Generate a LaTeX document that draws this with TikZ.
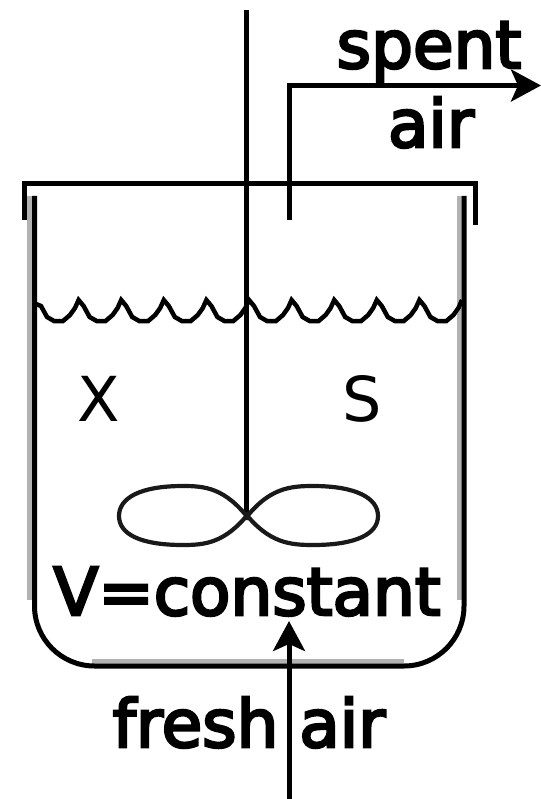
\documentclass[tikz,border=0pt]{standalone}
\usepackage{fontspec}
\setmainfont{DejaVu Sans}
\newfontfamily\lblfont[FakeBold=4]{DejaVu Sans}
\usetikzlibrary{arrows.meta}
\tikzset{
 px/.style={x=1pt,y=-1pt},
 heavy/.style={line width=5pt,black},
 wall/.style={line width=5pt,black},
 wallshade/.style={line width=5pt,black!30},
 lobe/.style={line width=4.2pt,black!90},
 lbl/.style={inner sep=0pt,anchor=base,text=black,font=\lblfont\fontsize{66}{66}\selectfont},
 big/.style={inner sep=0pt,text=black,font=\fontsize{62}{62}\selectfont},
 tip/.style={-{Stealth[length=30pt,width=32pt,inset=7pt]}},
}
\begin{document}
\begin{tikzpicture}[px]
\useasboundingbox (0,0) rectangle (540,799);
\coordinate (shaftTop) at (246.5,10);
\coordinate (hub) at (246.5,516);
\coordinate (ventLow) at (289,220);
\coordinate (ventCorner) at (289,85.5);
\coordinate (ventEnd) at (541,85.5);
\coordinate (airLow) at (289,799);
\coordinate (airTip) at (289,621);
\coordinate (rimL) at (24.5,220);
\coordinate (rimLt) at (24.5,183.5);
\coordinate (rimRt) at (475,183.5);
\coordinate (rimR) at (475,225);
\node[lbl] (spent) at (429,68) {spent};
\node[lbl] (air) at (431,147) {air};
\node[big] (X) at (99,399) {X};
\node[big] (S) at (362,399) {S};
\node[lbl] (V) at (247,615) {V=constant};
\node[lbl] (fresh) at (249,747) {fresh air};
\draw[wallshade] (29.5,196) -- (29.5,600);
\draw[wallshade] (459.5,196) -- (459.5,600);
\draw[wallshade] (92,661) -- (404,661);
\draw[wall] (34.5,196) -- (34.5,606) arc[start angle=180,end angle=90,radius=60] -- (404,666) arc[start angle=90,end angle=0,radius=60] -- (464,196);
\draw[heavy] (rimL) -- (rimLt) -- (rimRt) -- (rimR);
\draw[heavy] (shaftTop) -- (hub);
\draw[heavy,tip] (ventLow) -- (ventCorner) -- (ventEnd);
\draw[heavy,tip] (airLow) -- (airTip);
\draw[lobe] (249,519) .. controls (225,488) and (205,486) .. (183,486) .. controls (140,486) and (119,498) .. (119,516) .. controls (119,534) and (140,545) .. (183,545) .. controls (205,545) and (225,543) .. (249,513);
\draw[lobe] (245,519) .. controls (269,488) and (290,486) .. (313,486) .. controls (356,486) and (378,498) .. (378,516) .. controls (378,534) and (356,545) .. (313,545) .. controls (290,545) and (269,543) .. (245,513);
\draw[line width=4.5pt,black,line join=miter] (36,304)
 \foreach \i in {0,...,9}{ -- (36+\i*42.6+5,306) -- (36+\i*42.6+11,317) -- (36+\i*42.6+18,321) -- (36+\i*42.6+27,321) -- (36+\i*42.6+34,315) -- (36+\i*42.6+39,308) -- (36+\i*42.6+42.6,300)};
\end{tikzpicture}
\end{document}
